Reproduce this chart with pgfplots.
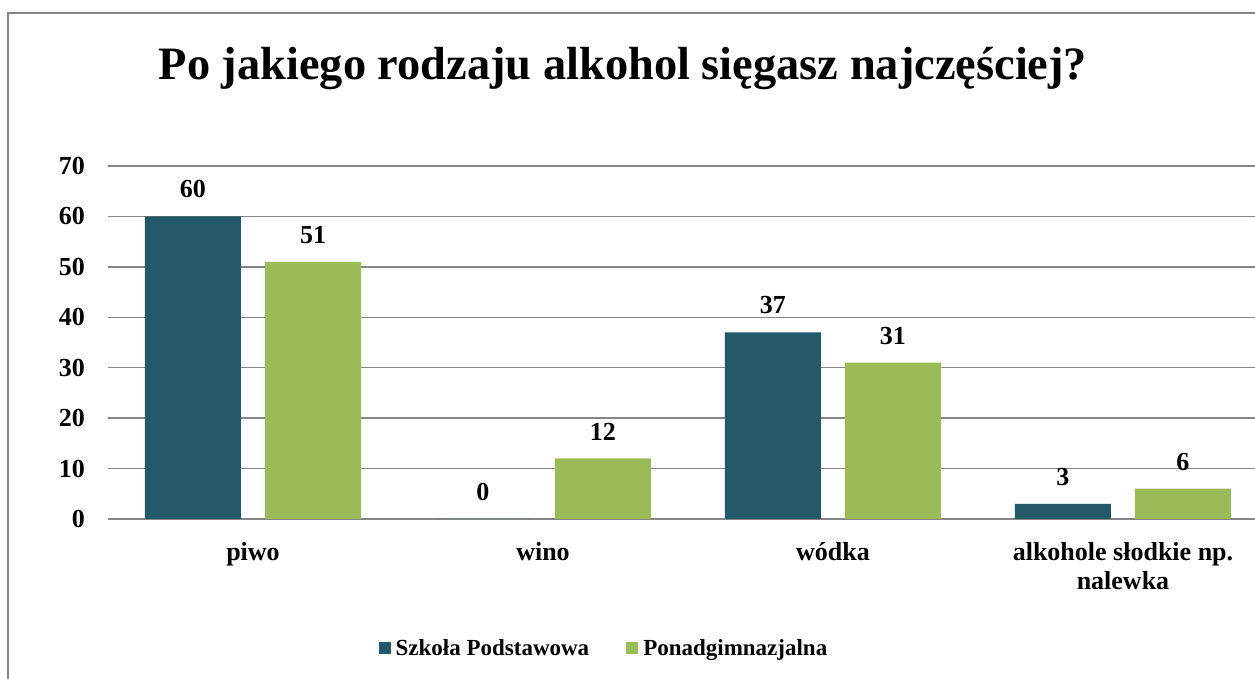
\documentclass[border=0pt]{standalone}
\usepackage{fontspec}
\setmainfont{Liberation Serif}
\usepackage{pgfplots}
\pgfplotsset{compat=1.18}
\definecolor{teal1}{RGB}{35,89,104}
\definecolor{green1}{RGB}{155,187,89}
\definecolor{gridgray}{RGB}{134,134,134}
\newcommand{\lblfont}{\fontsize{26}{29}\selectfont\bfseries}
\newcommand{\legfont}{\fontsize{23}{27}\selectfont\bfseries}
\begin{document}
\begin{tikzpicture}
\useasboundingbox (0,0) rectangle (1255pt,679pt);
\clip (0,0) rectangle (1255pt,679pt);
\fill[white] (0,0) rectangle (1255pt,679pt);
\draw[gridgray, line width=2pt] (8pt,666pt) rectangle (1300pt,-50pt);
\node[anchor=base, inner sep=0pt, font=\fontsize{46.4}{56}\selectfont\bfseries] at (623pt,599pt) {Po jakiego rodzaju alkohol sięgasz najczęściej?};
\begin{axis}[
  at={(108pt,160pt)}, anchor=south west,
  scale only axis, width=1160pt, height=353pt,
  xmin=-0.5, xmax=3.5, ymin=0, ymax=70,
  ybar=24pt, bar width=96pt,
  ytick={0,10,...,70},
  xtick={0,1,2,3},
  xticklabels={piwo,wino,wódka,{alkohole słodkie np.\\nalewka}},
  axis line style={draw=none},
  major tick length=0pt,
  ymajorgrids, grid style={gridgray, line width=1.5pt},
  /pgf/number format/assume math mode=true,
  yticklabel style={font=\lblfont, inner sep=0pt, xshift=-23pt},
  xticklabel style={font=\lblfont, inner sep=0pt, yshift=-23pt, align=center},
  nodes near coords,
  every node near coord/.append style={font=\lblfont, inner sep=0pt, anchor=south, yshift=18pt, text=black},
  legend style={at={(0.428,-0.365)}, anchor=center, draw=none, fill=none,
    legend columns=2, font=\legfont, inner sep=0pt,
    nodes={inner sep=3pt},
    /tikz/every odd column/.append style={column sep=2pt},
    /tikz/every even column/.append style={column sep=34pt}},
  legend image code/.code={\fill[#1,draw=none] (0pt,-6pt) rectangle (12pt,6pt);},
]
\addplot[fill=teal1, draw=none]
  coordinates {(0,60) (1,0) (2,37) (3,3)};
\addlegendentry{Szkoła Podstawowa}
\addplot[fill=green1, draw=none]
  coordinates {(0,51) (1,12) (2,31) (3,6)};
\addlegendentry{Ponadgimnazjalna}
\end{axis}
\end{tikzpicture}
\end{document}
